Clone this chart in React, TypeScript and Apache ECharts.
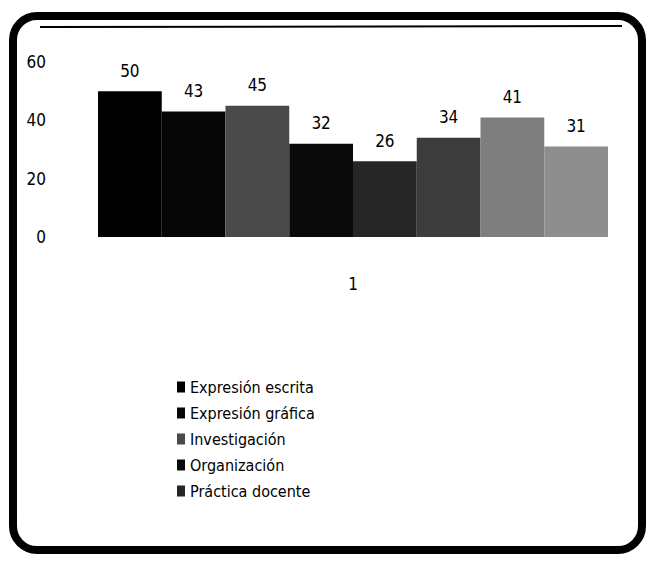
import React, { useEffect, useRef } from "react";
import * as echarts from "echarts";

const categories = ["1"];
const seriesNames = [
  "Expresión escrita",
  "Expresión gráfica",
  "Investigación",
  "Organización",
  "Práctica docente",
  "Serie 6",
  "Serie 7",
  "Serie 8",
];
const legendNames = seriesNames.slice(0, 5);
const seriesValues = [50, 43, 45, 32, 26, 34, 41, 31];
const seriesColors = ["#000000", "#060606", "#4a4a4a", "#0a0a0a", "#262626", "#3c3c3c", "#7e7e7e", "#8e8e8e"];
const yTicks = { min: 0, max: 60, interval: 20 };

const FONT = "'Liberation Sans Narrow', 'DejaVu Sans Condensed', 'Arial Narrow', sans-serif";

export default function App() {
  const ref = useRef<HTMLDivElement>(null);
  useEffect(() => {
    if (!ref.current) return;
    const chart = echarts.init(ref.current, null, { renderer: "svg" });
    chart.setOption({
      animation: false,
      backgroundColor: "#ffffff",
      textStyle: { fontFamily: FONT },
      grid: { left: 98, right: 46, top: 62, bottom: 325 },
      legend: {
        data: legendNames,
        orient: "vertical",
        left: 172,
        top: 374,
        itemWidth: 8,
        itemHeight: 11,
        itemGap: 10,
        icon: "rect",
        textStyle: { fontFamily: FONT, fontSize: 16, color: "#000" },
      },
      xAxis: {
        type: "category",
        data: categories,
        axisLine: { show: false },
        axisTick: { show: false },
        axisLabel: { margin: 38, fontSize: 17, color: "#000", fontFamily: FONT },
      },
      yAxis: {
        type: "value",
        min: yTicks.min,
        max: yTicks.max,
        interval: yTicks.interval,
        axisLine: { show: false },
        axisTick: { show: false },
        splitLine: { show: false },
        axisLabel: { margin: 52, fontSize: 17, color: "#000", fontFamily: FONT },
      },
      series: seriesNames.map((name, i) => ({
        name,
        type: "bar",
        data: [seriesValues[i]],
        barGap: "0%",
        barCategoryGap: "0%",
        itemStyle: { color: seriesColors[i] },
        label: {
          show: true,
          position: "top",
          distance: 12,
          fontSize: 17,
          color: "#000",
          fontFamily: FONT,
        },
      })),
      graphic: [
        {
          type: "rect",
          shape: { x: 13, y: 16, width: 629, height: 534, r: 24 },
          style: { fill: "none", stroke: "#000", lineWidth: 8 },
          silent: true,
        },
        {
          type: "line",
          shape: { x1: 40, y1: 27, x2: 622, y2: 26 },
          style: { stroke: "#000", lineWidth: 2 },
          silent: true,
        },
      ],
    });
    return () => chart.dispose();
  }, []);
  return (
    <div
      ref={ref}
      style={{ position: "absolute", left: 0, top: 0, width: 654, height: 562 }}
    />
  );
}
